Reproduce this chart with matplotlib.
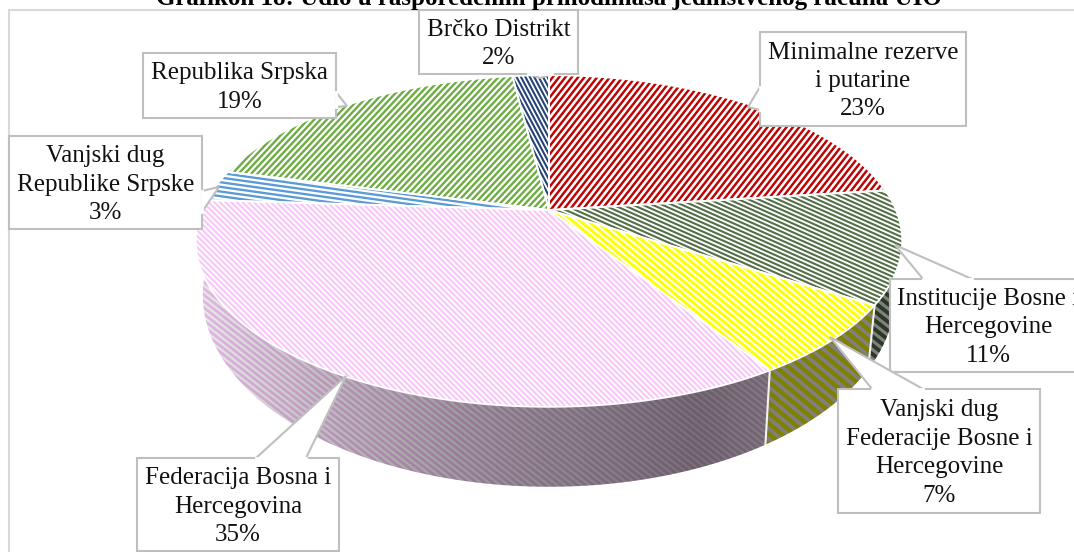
import numpy as np
import matplotlib
matplotlib.use('Agg')
import matplotlib.pyplot as plt
from matplotlib.patches import Polygon, Rectangle
from matplotlib.collections import LineCollection

# podaci
kategorije = ['Minimalne rezerve\ni putarine', 'Institucije Bosne i\nHercegovine',
              'Vanjski dug\nFederacije Bosne i\nHercegovine', 'Federacija Bosna i\nHercegovina',
              'Vanjski dug\nRepublike Srpske', 'Republika Srpska', 'Brčko Distrikt']
udjeli = [23, 11, 7, 35, 3, 19, 2]
naslov = 'Grafikon 18: Udio u raspoređenim prihodimasa jedinstvenog računa UIO'

# boje i srafura: boja, ugao, razmak, debljina
boje = ['#C00000', '#557048', '#FFFF00', '#F8C8F8', '#5B9BD5', '#70AD47', '#264478']
ugao_vrh = [52, -24, -40, -45, -8, 47, -62]
razmak_vrh = [5.0, 4.0, 5.0, 4.0, 4.6, 4.6, 3.9]
debljina_vrh = [2.4, 2.1, 3.0, 2.2, 2.3, 2.4, 2.1]
ugao_bok = [-40, -38, -40, -38, -40, -40, -40]
razmak_bok = [7, 7, 8, 5, 5, 5, 5]

# kutije s tekstom: lijevo, gore, desno, dolje, vrh strelice, osnova strelice
kutije = [
    (760, 32, 966, 126, (748, 107), [(760, 87), (760, 110)]),
    (890, 279, 1086, 372, (895, 245), [(923, 279), (972, 279)]),
    (838, 389, 1040, 513, (830, 337), [(872, 389), (923, 389)]),
    (137, 458, 339, 551, (346, 376), [(256, 458), (306, 458)]),
    (9, 136, 202, 229, (219, 187), [(202, 191), (202, 212)]),
    (143, 53, 336, 118, (347, 106), [(336, 92), (336, 107)]),
    (419, 10, 578, 74, (540, 78), [(528, 74), (552, 74)]),
]

CX, CY = 549, 210
R, H, K = 347, 160, 0.187


def vrh(theta):
    u, v = np.sin(theta), np.cos(theta)
    w = 1 + K * v
    return CX + R * u / w, CY - H * v / w


def dno(theta):
    x, y = vrh(theta)
    return CX + (x - CX) * 345 / 352, 295 + (y - 241) * 192 / 166


def srafura(ax, patch, boja, ugao, razmak, lw, z):
    a = np.radians(ugao)
    d = np.array([np.cos(a), -np.sin(a)])
    n = np.array([np.sin(a), np.cos(a)])
    segs = []
    for t in np.arange(-1300, 1300, razmak):
        p = np.array([537, 276]) + n * t
        segs.append([p - d * 1300, p + d * 1300])
    lc = LineCollection(segs, colors=boja, linewidths=lw * 0.72, zorder=z)
    ax.add_collection(lc)
    lc.set_clip_path(patch)


fig = plt.figure(figsize=(10.74, 5.52), dpi=100)
ax = fig.add_axes([0, 0, 1, 1])

# senka na boku, po x
sx = np.arange(1074)
alfa = np.interp(sx, [197, 350, 500, 700, 780, 900], [0.08, 0.28, 0.42, 0.55, 0.5, 0.5])
senka = np.zeros((1, 1074, 4))
senka[0, :, 3] = alfa

granice = np.cumsum([0] + udjeli) / sum(udjeli) * 2 * np.pi

# bokovi
for i in range(len(udjeli)):
    th = np.linspace(granice[i], granice[i + 1], 80)
    gornji = np.array(vrh(th)).T
    donji = np.array(dno(th)).T
    tacke = np.vstack([gornji, donji[::-1]])
    p = Polygon(tacke, closed=True, facecolor='white', edgecolor='none', zorder=2)
    ax.add_patch(p)
    srafura(ax, p, boje[i], ugao_bok[i], razmak_bok[i], razmak_bok[i] * 0.55, 3)
    im = ax.imshow(senka, extent=(0, 1074, 552, 0), aspect='auto', zorder=4)
    im.set_clip_path(p)

# bijele linije na boku
for g in granice[1:4]:
    xt, yt = vrh(g)
    xb, yb = dno(g)
    ax.plot([xt, xb], [yt, yb], color='#F2F2F2', lw=1.5, zorder=5)

# gornja ploha
for i in range(len(udjeli)):
    th = np.linspace(granice[i], granice[i + 1], 120)
    luk = np.array(vrh(th)).T
    tacke = np.vstack([[CX, CY], luk])
    p = Polygon(tacke, closed=True, facecolor='white', edgecolor='none', zorder=6)
    ax.add_patch(p)
    srafura(ax, p, boje[i], ugao_vrh[i], razmak_vrh[i], debljina_vrh[i], 7)
    ax.add_patch(Polygon(tacke, closed=True, fill=False, edgecolor='white', lw=1.3, zorder=8))

# okvir
ax.plot([9, 9, 1074], [552, 9.5, 9.5], color='#D9D9D9', lw=1.5, zorder=1)

# kutije
for tekst, u, k in zip(kategorije, udjeli, kutije):
    l, t, r, b, vrh_s, osnova = k
    ax.add_patch(Rectangle((l, t), r - l, b - t, facecolor='white', edgecolor='#BFBFBF', lw=1.5, zorder=10))
    ax.add_patch(Polygon([osnova[0], vrh_s, osnova[1]], closed=False, facecolor='white',
                         edgecolor='#BFBFBF', lw=1.5, zorder=11))
    # prekrij liniju kutije ispod strelice
    ax.plot([osnova[0][0], osnova[1][0]], [osnova[0][1], osnova[1][1]], color='white', lw=2, zorder=12)
    ax.text((l + r) / 2, (t + b) / 2 + 2, f'{tekst}\n{u}%', ha='center', va='center',
            family='Liberation Serif', fontsize=18, color='#111111', linespacing=1.38, zorder=13)

ax.text(549, 5, naslov, ha='center', va='baseline', family='Liberation Serif',
        fontweight='bold', fontsize=18, color='black', zorder=14)

ax.set_xlim(0, 1074)
ax.set_ylim(552, 0)
ax.axis('off')
fig.savefig('out.png', dpi=100)
